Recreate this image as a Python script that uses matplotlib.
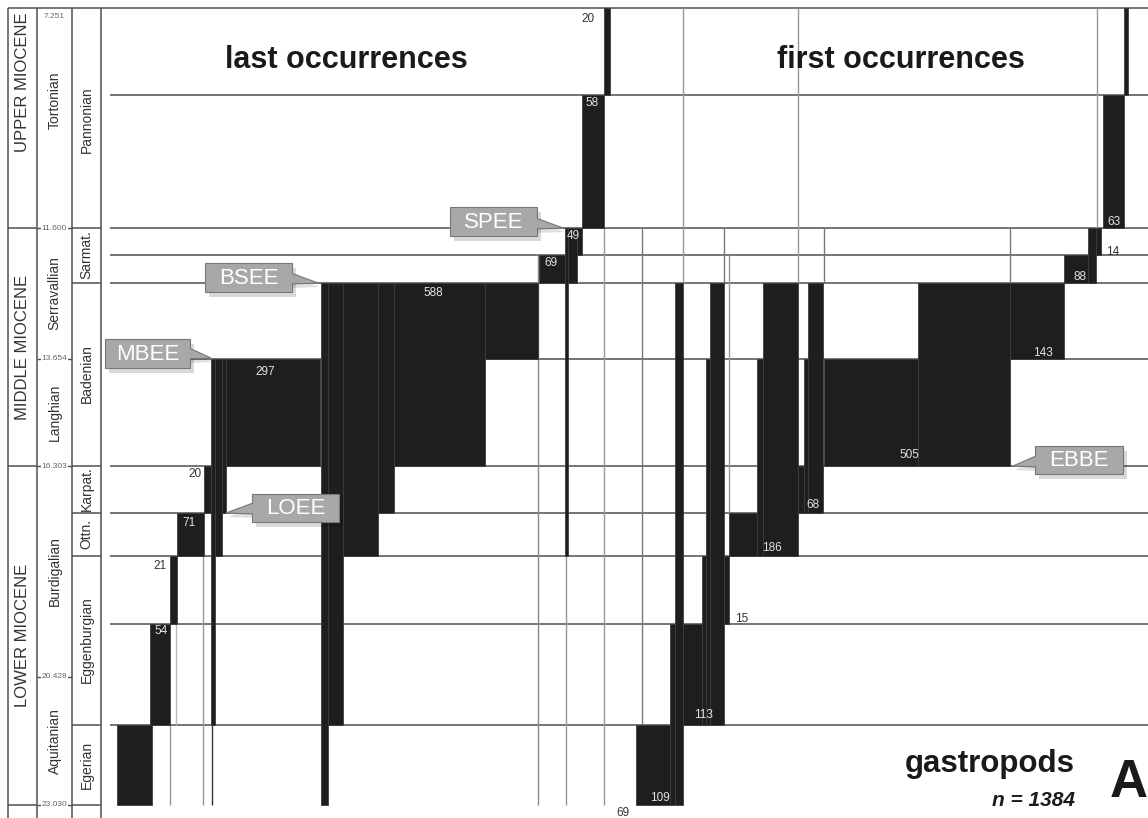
import matplotlib
matplotlib.use('Agg')
import matplotlib.pyplot as plt
from matplotlib.patches import Rectangle, Polygon

plt.rcParams['font.family'] = ['Liberation Sans', 'DejaVu Sans']

# depth of the horizontal boundaries on the chart (top ... base)
edges = [8, 95, 228, 255, 283, 359, 466, 513, 556, 624, 725, 805]

# ranges of species blocks: left, right, first bin, last bin (bin = row between edges)
lo_left = [117, 150, 170, 177, 204, 211, 215, 222, 226, 321, 328, 343, 378, 394, 485,
           539, 565, 568, 577, 582, 604]
lo_right = [152, 170, 177, 204, 211, 215, 222, 226, 320, 328, 343, 378, 394, 485, 538,
            565, 568, 577, 582, 604, 610]
lo_top = [10, 9, 8, 7, 6, 5, 5, 5, 5, 4, 4, 4, 4, 4, 4, 3, 2, 2, 2, 1, 0]
lo_bot = [10, 9, 8, 7, 6, 9, 7, 6, 5, 10, 9, 7, 6, 5, 4, 3, 7, 3, 2, 1, 0]

fo_left = [636, 670, 675, 683, 702, 706, 710, 724, 729, 757, 763, 798, 804, 808, 824,
           918, 1010, 1064, 1088, 1096, 1103, 1124]
fo_right = [670, 675, 683, 702, 706, 710, 724, 729, 757, 763, 798, 804, 808, 823, 918,
            1010, 1064, 1088, 1096, 1101, 1124, 1128]
fo_top = [10, 9, 4, 9, 8, 5, 4, 8, 7, 5, 4, 6, 5, 4, 5, 4, 4, 3, 2, 2, 1, 0]
fo_bot = [10, 10, 10, 9, 9, 9, 9, 8, 7, 7, 7, 6, 6, 6, 5, 5, 4, 3, 3, 2, 1, 0]

# single-species range lines: x, from, to
thin_x = [170, 176, 203, 212, 538, 566, 604, 642, 683, 724, 729, 798, 824, 1010, 1097]
thin_y0 = [725, 624, 556, 725, 255, 556, 228, 228, 8, 228, 255, 8, 228, 228, 8]
thin_y1 = [805, 725, 805, 805, 805, 805, 805, 725, 283, 283, 513, 283, 283, 283, 228]
thin_c = ['#999', '#bbb', '#999', '#333', '#888', '#999', '#999', '#777', '#999', '#777',
          '#999', '#999', '#777', '#777', '#999']

# counts written on the blocks
counts = ['54', '21', '71', '20', '297', '588', '69', '49', '58', '20',
          '109', '69', '113', '15', '186', '68', '505', '143', '88', '14', '63']
count_x = [161, 160, 189, 195, 265, 433, 551, 573, 592, 588,
           660, 623, 703, 742, 772, 813, 909, 1043, 1080, 1113, 1114]
count_y = [631, 566, 523, 474, 372, 293, 263, 236, 103, 19,
           798, 813, 715, 619, 548, 505, 455, 353, 277, 252, 222]
count_on_bar = [1, 0, 1, 0, 1, 1, 1, 1, 1, 0, 1, 0, 1, 0, 1, 1, 1, 1, 1, 0, 1]

# stratigraphy columns
epochs = ['UPPER MIOCENE', 'MIDDLE MIOCENE', 'LOWER MIOCENE']
epoch_y = [82, 347, 635]
stages = ['Tortonian', 'Serravallian', 'Langhian', 'Burdigalian', 'Aquitanian']
stage_y = [100, 293, 412, 571, 741]
regional = ['Pannonian', 'Sarmat.', 'Badenian', 'Karpat.', 'Ottn.', 'Eggenburgian', 'Egerian']
regional_y = [120, 255, 374, 489, 534, 640, 765]
regional_lines = [228, 283, 466, 513, 556, 725, 805]
ages = ['7.251', '11.600', '13.654', '16.303', '20.428', '23.030']
age_y = [17, 228, 359, 466, 677, 805]

events = ['MBEE', 'BSEE', 'SPEE', 'LOEE', 'EBBE']
event_box = [(105, 190, 339, 368), (205, 292, 263, 292), (450, 537, 207, 236),
             (252, 339, 494, 522), (1035, 1123, 446, 474)]
event_tip = [(211, 358), (318, 283), (563, 228), (226, 513), (1013, 466)]

fig = plt.figure(figsize=(11.48, 8.18), dpi=100)
ax = fig.add_axes([0, 0, 1, 1])
ax.set_xlim(0, 1148)
ax.set_ylim(818, 0)
ax.axis('off')

line_c = '#505050'
# grid of stage boundaries
ax.hlines(edges[1:-1], 110, 1148, color=line_c, lw=1.1, zorder=1)
ax.hlines(edges[0], 8, 1148, color=line_c, lw=1.1, zorder=1)
ax.vlines(thin_x, thin_y0, thin_y1, colors=thin_c, lw=1.0, zorder=1.5)

bar_col = '#1e1e1e'
for L, R, T, B in [(lo_left, lo_right, lo_top, lo_bot), (fo_left, fo_right, fo_top, fo_bot)]:
    width = [r - l for l, r in zip(L, R)]
    bottom = [edges[t] for t in T]
    height = [edges[b + 1] - edges[t] for t, b in zip(T, B)]
    ax.bar(L, height, width=width, bottom=bottom, align='edge',
           color=bar_col, edgecolor='#3c3c3c', linewidth=0.6, zorder=2)

for s, x, y, on in zip(counts, count_x, count_y, count_on_bar):
    ax.text(x, y, s, ha='center', va='center', fontsize=8.5,
            color='#e2e2e2' if on else '#333', zorder=3)

# left stratigraphic columns
ax.vlines([8, 37, 72, 101], 8, 818, color=line_c, lw=1.1)
ax.hlines([228, 466, 805], 8, 37, color=line_c, lw=1.1)
ax.hlines(regional_lines, 72, 101, color=line_c, lw=1.1)
ax.hlines(age_y[1:], 37, 72, color=line_c, lw=1.0)
for s, y in zip(epochs, epoch_y):
    ax.text(22.5, y, s, rotation=90, ha='center', va='center', fontsize=12, color='#333')
for s, y in zip(stages, stage_y):
    ax.text(54.5, y, s, rotation=90, ha='center', va='center', fontsize=10, color='#333')
for s, y in zip(regional, regional_y):
    ax.text(86.5, y, s, rotation=90, ha='center', va='center', fontsize=10, color='#333')
for s, y in zip(ages, age_y):
    ax.text(54.5, y, s, ha='center', va='center', fontsize=6, color='#666',
            bbox=dict(fc='white', ec='none', pad=0.6))

# event callouts
for s, (x0, x1, y0, y1), (tx, ty) in zip(events, event_box, event_tip):
    w, h = x1 - x0, y1 - y0
    base = x1 - 1 if tx > x1 else x0 + 1
    ya, yb = max(y0 + 2, ty - 10), min(y1 - 2, ty + 1)
    ax.add_patch(Rectangle((x0 + 4, y0 + 5), w, h, fc='#000', alpha=0.15, lw=0, zorder=4))
    ax.add_patch(Polygon([(base, ya + 4), (tx + 2, ty + 4), (base, yb + 4)], fc='#000',
                         alpha=0.12, lw=0, zorder=4))
    ax.add_patch(Polygon([(base, ya), (tx, ty), (base, yb)], fc='#a8a8a8', ec='#777',
                         lw=0.8, zorder=5))
    ax.add_patch(Rectangle((x0, y0), w, h, fc='#a8a8a8', ec='#777', lw=0.8, zorder=5))
    ax.add_patch(Rectangle((base - 1.5, ya + 0.8), 3, yb - ya - 1.6, fc='#a8a8a8', lw=0, zorder=5.5))
    ax.text((x0 + x1) / 2, (y0 + y1) / 2 + 1, s, ha='center', va='center', fontsize=16,
            color='white', zorder=6)

ax.text(346, 60, 'last occurrences', ha='center', va='center', fontsize=22,
        fontweight='bold', color='#1a1a1a')
ax.text(901, 60, 'first occurrences', ha='center', va='center', fontsize=22,
        fontweight='bold', color='#1a1a1a')
ax.text(1075, 764, 'gastropods', ha='right', va='center', fontsize=22.5,
        fontweight='bold', color='#1a1a1a')
ax.text(1075, 801, 'n = 1384', ha='right', va='center', fontsize=15,
        fontweight='bold', fontstyle='italic', color='#1a1a1a')
ax.text(1129, 783, 'A', ha='center', va='center', fontsize=38,
        fontweight='bold', color='#1a1a1a')

fig.savefig('out.png', dpi=100)
